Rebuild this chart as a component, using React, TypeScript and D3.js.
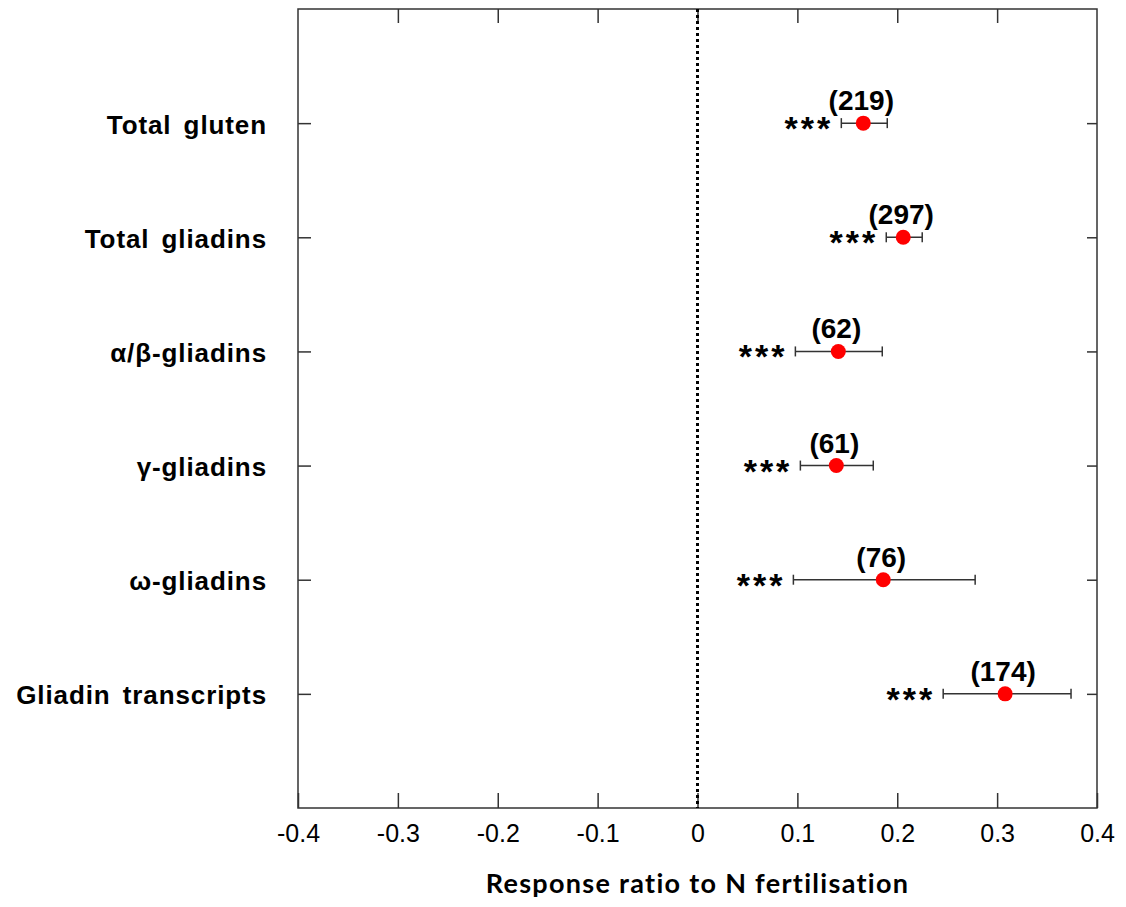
import React, { useEffect, useRef } from "react";
import * as d3 from "d3";

// values
const categories = ["Total gluten", "Total gliadins", "α/β-gliadins", "γ-gliadins", "ω-gliadins", "Gliadin transcripts"];
const means = [0.166, 0.206, 0.141, 0.139, 0.186, 0.308];
const lower = [0.144, 0.189, 0.098, 0.103, 0.096, 0.246];
const upper = [0.19, 0.225, 0.185, 0.176, 0.278, 0.374];
const counts = ["(219)", "(297)", "(62)", "(61)", "(76)", "(174)"];
const signif = ["***", "***", "***", "***", "***", "***"];
const xTicks = [-0.4, -0.3, -0.2, -0.1, 0, 0.1, 0.2, 0.3, 0.4];

const W = 1126, H = 907;
const arial = "'Liberation Sans', Arial, sans-serif";

export default function App() {
  const ref = useRef<SVGSVGElement>(null);

  useEffect(() => {
    const margin = { top: 9, right: 29, bottom: 99, left: 298 };
    const w = W - margin.left - margin.right,
      h = H - margin.top - margin.bottom;

    const svg = d3.select(ref.current);
    svg.selectAll("*").remove();
    const g = svg.append("g").attr("transform", `translate(${margin.left},${margin.top})`);

    const x = d3.scaleLinear().domain([-0.4, 0.4]).range([0, w]);
    const y = d3.scaleLinear().domain([0, categories.length + 1]).range([0, h]);
    const rows = categories.map((_, i) => i + 1);

    const axisColor = "#333";

    // frame
    g.append("rect")
      .attr("width", w)
      .attr("height", h)
      .attr("fill", "none")
      .attr("stroke", axisColor)
      .attr("stroke-width", 1.5);

    // bottom axis, ticks pointing in
    const xb = g.append("g").attr("transform", `translate(0,${h})`)
      .call(d3.axisBottom(x).tickValues(xTicks).tickSize(-15).tickPadding(16)
        .tickFormat((d) => String(Math.round((d as number) * 10) / 10)));
    xb.select(".domain").remove();
    xb.selectAll("line").attr("stroke", axisColor).attr("stroke-width", 1.5);
    xb.selectAll("text")
      .attr("fill", "#000")
      .style("font-family", arial)
      .style("font-size", "25px");

    // top axis ticks
    const xt = g.append("g").call(d3.axisTop(x).tickValues(xTicks.slice(1, -1)).tickSize(-14).tickFormat(() => ""));
    xt.select(".domain").remove();
    xt.selectAll("line").attr("stroke", axisColor).attr("stroke-width", 1.5);

    // left axis ticks and category labels
    const yl = g.append("g").call(d3.axisLeft(y).tickValues(rows).tickSize(-13).tickPadding(31).tickFormat((d, i) => categories[i]));
    yl.select(".domain").remove();
    yl.selectAll("line").attr("stroke", axisColor).attr("stroke-width", 1.5);
    yl.selectAll("text")
      .attr("fill", "#000")
      .attr("dy", "0.38em")
      .style("font-family", arial)
      .style("font-weight", "bold")
      .style("font-size", "26px")
      .style("letter-spacing", "0.9px")
      .style("word-spacing", "4px");

    // right axis ticks
    const yr = g.append("g").attr("transform", `translate(${w},0)`)
      .call(d3.axisRight(y).tickValues(rows).tickSize(-10).tickFormat(() => ""));
    yr.select(".domain").remove();
    yr.selectAll("line").attr("stroke", axisColor).attr("stroke-width", 1.5);

    // zero line
    g.append("line")
      .attr("x1", x(0)).attr("x2", x(0))
      .attr("y1", 0).attr("y2", h)
      .attr("stroke", "#000")
      .attr("stroke-width", 3)
      .attr("stroke-dasharray", "3,3");

    const pts = g.selectAll(".pt").data(rows).join("g").attr("class", "pt");

    // error bars
    pts.append("line")
      .attr("x1", (d, i) => x(lower[i])).attr("x2", (d, i) => x(upper[i]))
      .attr("y1", (d) => y(d)).attr("y2", (d) => y(d))
      .attr("stroke", axisColor).attr("stroke-width", 1.5);
    pts.append("line")
      .attr("x1", (d, i) => x(lower[i])).attr("x2", (d, i) => x(lower[i]))
      .attr("y1", (d) => y(d) - 5).attr("y2", (d) => y(d) + 5)
      .attr("stroke", axisColor).attr("stroke-width", 1.5);
    pts.append("line")
      .attr("x1", (d, i) => x(upper[i])).attr("x2", (d, i) => x(upper[i]))
      .attr("y1", (d) => y(d) - 5).attr("y2", (d) => y(d) + 5)
      .attr("stroke", axisColor).attr("stroke-width", 1.5);

    // points
    pts.append("circle")
      .attr("cx", (d, i) => x(means[i]))
      .attr("cy", (d) => y(d))
      .attr("r", 7.5)
      .attr("fill", "#ff0000");

    // n labels
    pts.append("text")
      .attr("x", (d, i) => x(means[i]) - 2)
      .attr("y", (d) => y(d) - 13)
      .attr("text-anchor", "middle")
      .style("font-family", arial)
      .style("font-weight", "bold")
      .style("font-size", "28px")
      .text((d, i) => counts[i]);

    // significance stars
    pts.append("text")
      .attr("x", (d, i) => x(lower[i]) - 8)
      .attr("y", (d) => y(d) + 17)
      .attr("text-anchor", "end")
      .style("font-family", arial)
      .style("font-weight", "bold")
      .style("font-size", "34px")
      .style("letter-spacing", "3px")
      .text((d, i) => signif[i]);

    // axis title
    g.append("text")
      .attr("x", w / 2)
      .attr("y", h + 85)
      .attr("text-anchor", "middle")
      .style("font-family", "Lato, 'Open Sans', sans-serif")
      .style("font-weight", "bold")
      .style("font-size", "27px")
      .style("letter-spacing", "1.3px")
      .text("Response ratio to N fertilisation");
  }, []);

  return (
    <div style={{ position: "absolute", left: 0, top: 0 }}>
      <svg ref={ref} width={W} height={H} style={{ display: "block", background: "#fff" }} />
    </div>
  );
}
